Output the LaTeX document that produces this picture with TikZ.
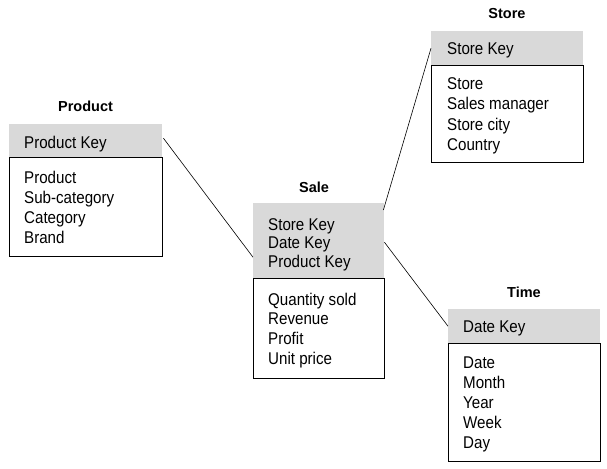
\documentclass[tikz,border=0pt]{standalone}
\usepackage{fontspec}
\setmainfont{Liberation Sans}
\newfontfamily\bodyfont[FakeStretch=0.89]{Liberation Sans}
\definecolor{keygray}{HTML}{D9D9D9}
\begin{document}
\begin{tikzpicture}[x=1pt,y=-1pt,
  keybox/.style={fill=keygray,draw=none,anchor=north west,inner sep=0pt},
  bodybox/.style={draw=black,line width=0.9pt,fill=white,anchor=north west,inner sep=0pt},
  txt/.style={anchor=base west,inner sep=0pt,font=\bodyfont\fontsize{17}{20}\selectfont},
  ttl/.style={anchor=base,inner sep=0pt,font=\bfseries\fontsize{14.5}{16}\selectfont},
  conn/.style={draw=black,line width=0.6pt}]
\useasboundingbox (0,0) rectangle (607,468);
% Product
\node[ttl] (pt) at (85.5,112) {Product};
\node[keybox,minimum width=153,minimum height=33] (pk) at (9,124) {};
\node[bodybox,minimum width=153,minimum height=99] (pb) at (9,157) {};
\node[txt] (pk1) at (24,148) {Product Key};
\foreach \t [count=\i] in {Product,Sub-category,Category,Brand}
  \node[txt] (pb\i) at (24,{163+20*\i}) {\t};
% Sale
\node[ttl] (st) at (314,192) {Sale};
\node[keybox,minimum width=131,minimum height=75] (sk) at (253,203) {};
\node[bodybox,minimum width=131,minimum height=100] (sb) at (253,278) {};
\foreach \t [count=\i] in {Store Key,Date Key,Product Key}
  \node[txt] (sk\i) at (268,{211.5+18.5*\i}) {\t};
\foreach \t [count=\i] in {Quantity sold,Revenue,Profit,Unit price}
  \node[txt] (sb\i) at (268,{285.3+19.7*\i}) {\t};
% Store
\node[ttl] (rt) at (507,19) {Store};
\node[keybox,minimum width=152,minimum height=34] (rk) at (431,31) {};
\node[bodybox,minimum width=152,minimum height=97] (rb) at (431,65) {};
\node[txt] (rk1) at (447,55) {Store Key};
\foreach \t [count=\i] in {Store,Sales manager,Store city,Country}
  \node[txt] (rb\i) at (447,{70+20*\i}) {\t};
% Time
\node[ttl] (tt) at (524,297) {Time};
\node[keybox,minimum width=152,minimum height=34] (tk) at (448,309) {};
\node[bodybox,minimum width=152,minimum height=118] (tb) at (448,343) {};
\node[txt] (tk1) at (463,332) {Date Key};
\foreach \t [count=\i] in {Date,Month,Year,Week,Day}
  \node[txt] (tb\i) at (463,{348+20*\i}) {\t};
% connectors
\draw[conn] ([yshift=2.5pt,xshift=1pt]pk.east) -- ([yshift=-16.5pt]sk.west);
\draw[conn] ([yshift=-7pt,xshift=-1pt]sk.north east) -- (rk.west);
\draw[conn] ([yshift=-1.5pt]sk.east) -- (tk.west);
\end{tikzpicture}
\end{document}
